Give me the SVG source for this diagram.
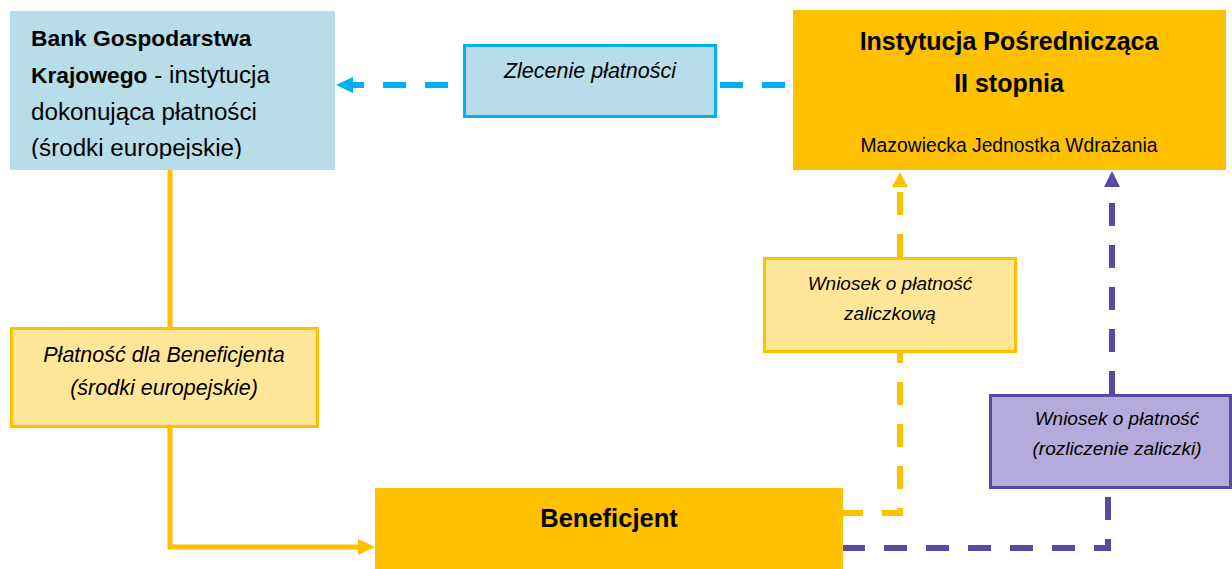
<svg xmlns="http://www.w3.org/2000/svg" width="1232" height="569" viewBox="0 0 1232 569">
<style>
text{font-family:"Liberation Sans",Arial,sans-serif;fill:#000}
.b{font-weight:bold}
.it{font-style:italic;font-size:21.5px}
.wn{font-style:italic;font-size:19px}
.mid{text-anchor:middle}
.dash{fill:none;stroke-width:6;stroke-dasharray:23 19}
</style>
<defs>
<clipPath id="bankclip"><rect x="10" y="11" width="325" height="148"/></clipPath>
</defs>
<rect width="1232" height="569" fill="#fff"/>
<g id="connectors">
  <path d="M170,170 V327 M170,428 V547 H360" fill="none" stroke="#FFC000" stroke-width="5"/>
  <polygon points="375,547 358,539 358,555" fill="#FFC000"/>
  <path class="dash" d="M785,85 H718" stroke="#00B0F0" stroke-dasharray="25 18"/>
  <path class="dash" d="M448,85 H380" stroke="#00B0F0" stroke-dasharray="25 18"/>
  <path d="M364,85 H350" stroke="#00B0F0" stroke-width="6"/>
  <polygon points="336,85 353,77 353,93" fill="#00B0F0"/>
  <path class="dash" d="M900,257 V190" stroke="#FFC000"/>
  <polygon points="900,172 892,187 908,187" fill="#FFC000"/>
  <path class="dash" d="M900,353 V513 H843" stroke="#FFC000" stroke-dashoffset="13"/>
  <path class="dash" d="M1112,394 V190" stroke="#5B48A2"/>
  <polygon points="1112,171 1104,187 1120,187" fill="#5B48A2"/>
  <path class="dash" d="M1108,489 V548 H843" stroke="#5B48A2" stroke-dashoffset="34"/>
</g>
<g id="bank">
  <rect x="10" y="11" width="325" height="159" fill="#B7DDE8"/>
  <g clip-path="url(#bankclip)" font-size="24.2">
    <text x="31" y="46" class="b" font-size="22.8">Bank Gospodarstwa</text>
    <text x="31" y="83"><tspan class="b" font-size="22.8">Krajowego</tspan> - instytucja</text>
    <text x="31" y="120">dokonująca płatności</text>
    <text x="31" y="156">(środki europejskie)</text>
  </g>
</g>
<g id="zlecenie">
  <rect x="464.5" y="45.5" width="251" height="71" fill="#B7DDE8" stroke="#00B0F0" stroke-width="3"/>
  <text x="590" y="78" class="it mid">Zlecenie płatności</text>
</g>
<g id="ip">
  <rect x="793" y="10" width="433" height="160" fill="#FFC000"/>
  <text x="1009" y="50" class="b mid" font-size="25">Instytucja Pośrednicząca</text>
  <text x="1009" y="92" class="b mid" font-size="25">II stopnia</text>
  <text x="1009" y="152" class="mid" font-size="19.3">Mazowiecka Jednostka Wdrażania</text>
</g>
<g id="wniosek-zaliczkowa">
  <rect x="764.5" y="258.5" width="251" height="93" fill="#FFE699" stroke="#FFC000" stroke-width="3"/>
  <text x="890" y="290" class="wn mid">Wniosek o płatność</text>
  <text x="890" y="320" class="wn mid">zaliczkową</text>
</g>
<g id="wniosek-rozliczenie">
  <rect x="990.5" y="395.5" width="240" height="92" fill="#B4AADB" stroke="#5B48A2" stroke-width="3"/>
  <text x="1117" y="425" class="wn mid">Wniosek o płatność</text>
  <text x="1117" y="455" class="wn mid">(rozliczenie zaliczki)</text>
</g>
<g id="platnosc">
  <rect x="11.5" y="328.5" width="306" height="98" fill="#FFE699" stroke="#FFC000" stroke-width="3"/>
  <text x="164" y="362" class="it mid">Płatność dla Beneficjenta</text>
  <text x="164" y="395" class="it mid">(środki europejskie)</text>
</g>
<g id="beneficjent">
  <rect x="375" y="488" width="468" height="81" fill="#FFC000"/>
  <text x="609" y="527" class="b mid" font-size="25.5">Beneficjent</text>
</g>
</svg>
